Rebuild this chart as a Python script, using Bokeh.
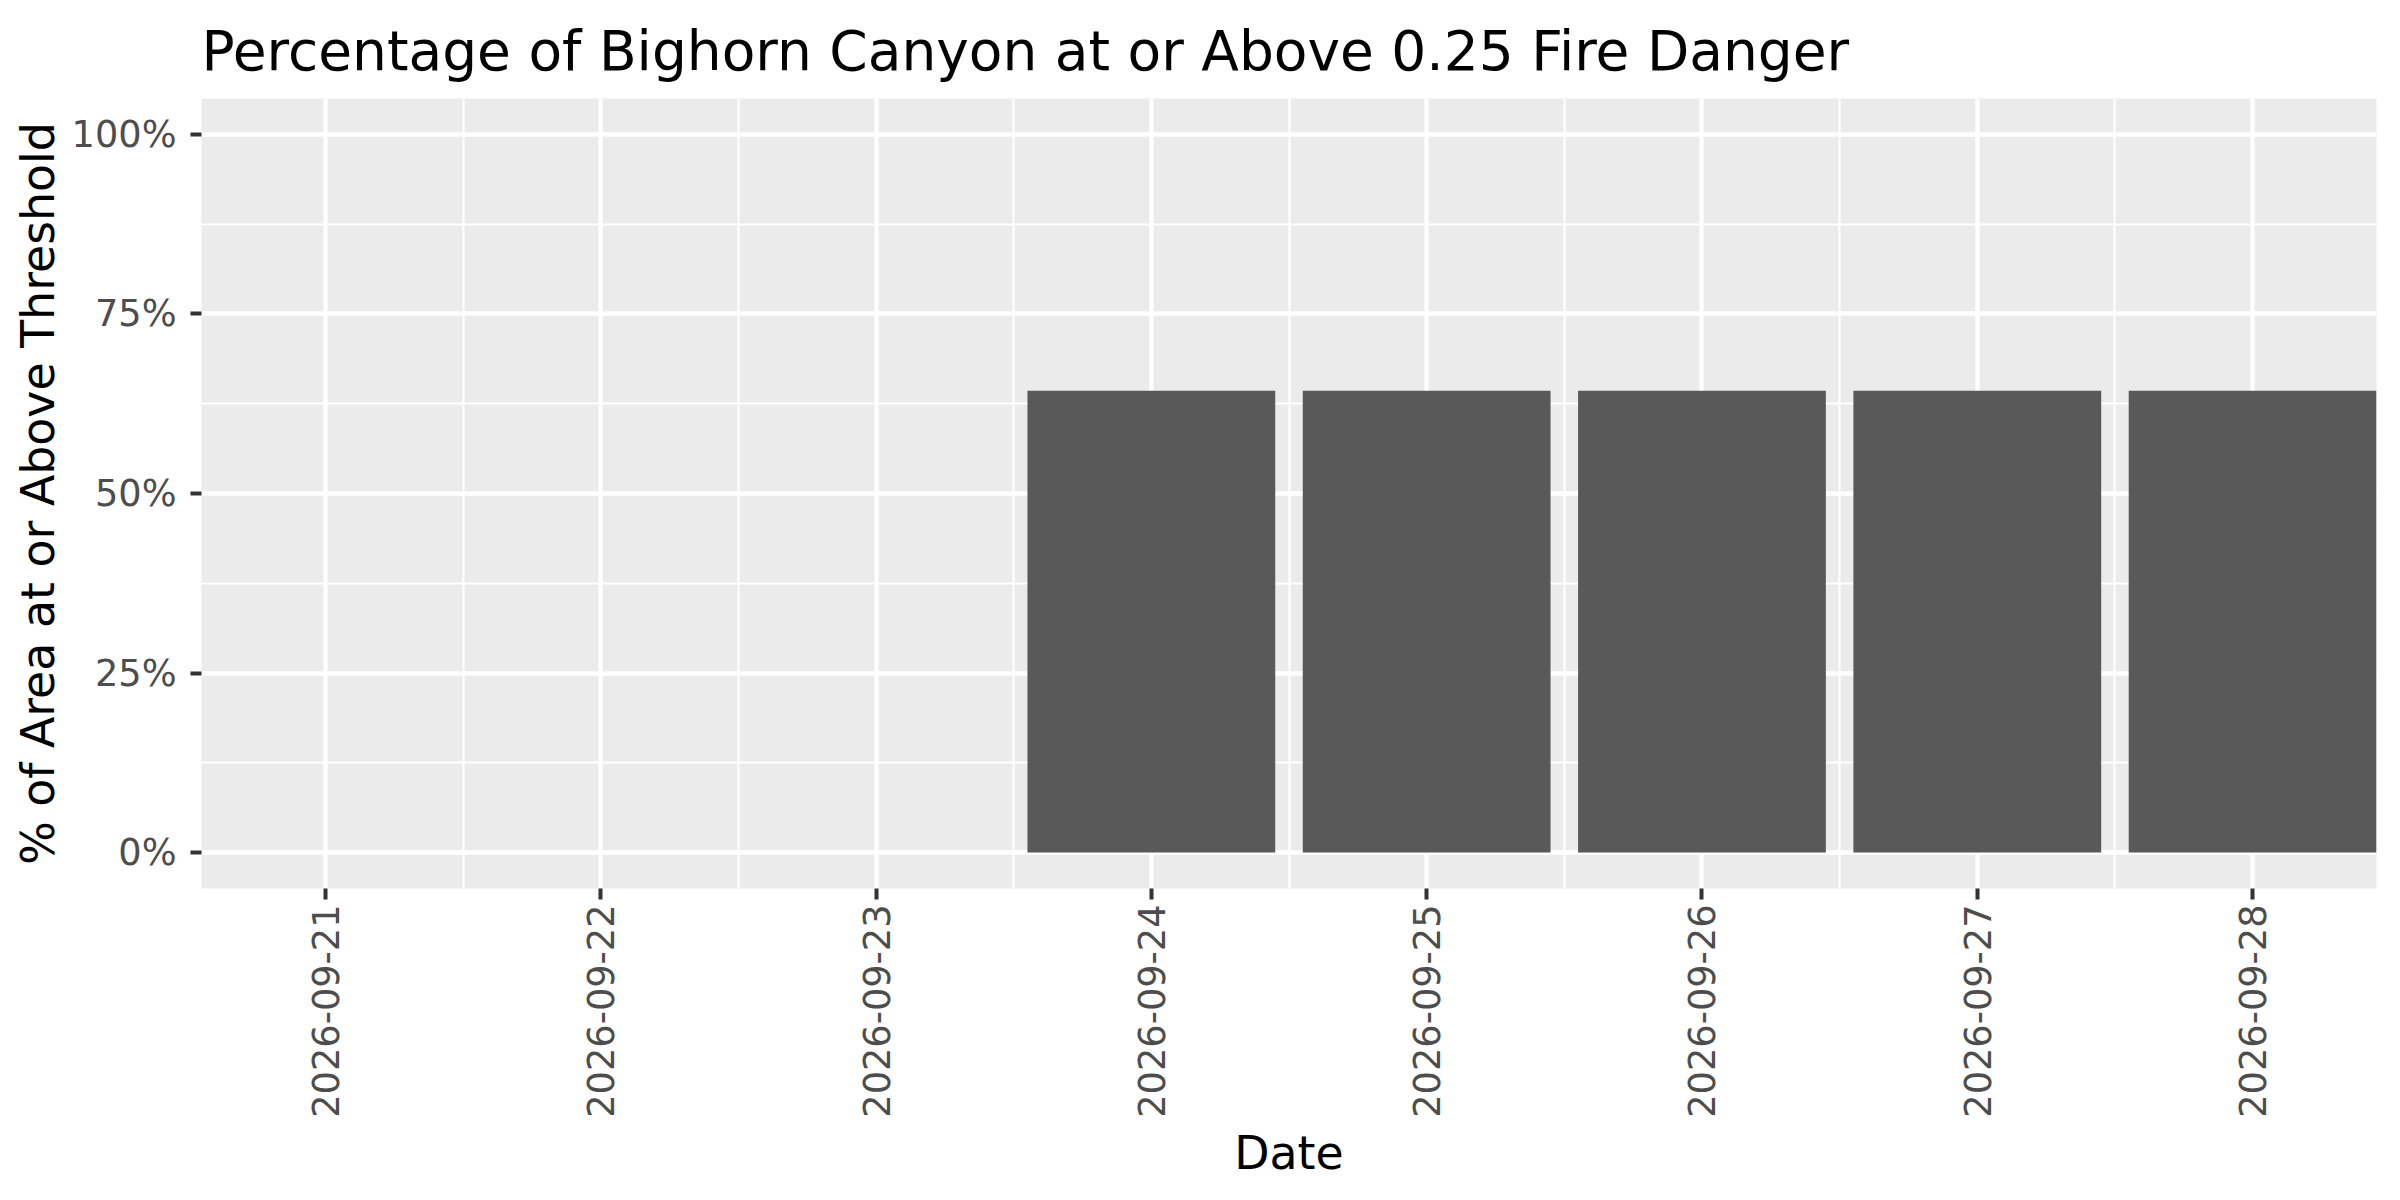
import math
import pandas as pd
from bokeh.plotting import figure
from bokeh.models import Range1d, FixedTicker, DatetimeTickFormatter, ColumnDataSource, Title
from bokeh.embed import file_html
from bokeh.resources import INLINE

# ---- data ----
dates = ["2026-09-21", "2026-09-22", "2026-09-23", "2026-09-24",
         "2026-09-25", "2026-09-26", "2026-09-27", "2026-09-28"]
pct_above = [0, 0, 0, 64.3, 64.3, 64.3, 64.3, 64.3]
y_ticks = [0, 25, 50, 75, 100]
y_tick_labels = ["0%", "25%", "50%", "75%", "100%"]
y_minor = [12.5, 37.5, 62.5, 87.5]

title_text = "Percentage of Bighorn Canyon at or Above 0.25 Fire Danger"
x_title = "Date"
y_title = "% of Area at or Above Threshold"

DAY = 86400000.0
dt = pd.to_datetime(dates)
ms = [float(v) for v in (dt.astype("int64") // 10**6)]

src = ColumnDataSource(dict(x=ms, top=pct_above))

p = figure(width=2384, height=1184, x_axis_type="datetime",
           output_backend="svg", toolbar_location=None,
           x_range=Range1d(ms[0] - 0.45 * DAY, ms[-1] + 0.45 * DAY),
           y_range=Range1d(-5, 105),
           min_border_left=201, min_border_right=8,
           min_border_top=97, min_border_bottom=296)

p.background_fill_color = "#EBEBEB"
p.border_fill_color = "white"
p.outline_line_color = None

p.vbar(x="x", top="top", bottom=0, width=0.9 * DAY, source=src,
       fill_color="#595959", line_color=None)

# title
p.title = Title(text=title_text, align="left", text_font="DejaVu Sans",
                text_font_size="55px", text_font_style="normal",
                text_color="black", standoff=32)

# x axis
p.xaxis.ticker = FixedTicker(ticks=ms, minor_ticks=[m + DAY / 2 for m in ms[:-1]])
fmt = "%Y-%m-%d"
p.xaxis.formatter = DatetimeTickFormatter(days=fmt, months=fmt, years=fmt, hours=fmt,
                                          hourmin=fmt, minutes=fmt, minsec=fmt,
                                          seconds=fmt, milliseconds=fmt,
                                          microseconds=fmt)
p.xaxis.major_label_orientation = math.pi / 2
p.xaxis.axis_label = x_title

# y axis
p.yaxis.ticker = FixedTicker(ticks=y_ticks, minor_ticks=y_minor)
p.yaxis.major_label_overrides = {t: l for t, l in zip(y_ticks, y_tick_labels)}
p.yaxis.axis_label = y_title

for ax in (p.xaxis, p.yaxis):
    ax.axis_line_color = None
    ax.major_tick_in = 0
    ax.major_tick_out = 11
    ax.minor_tick_in = 0
    ax.minor_tick_out = 0
    ax.major_tick_line_color = "#333333"
    ax.major_tick_line_width = 4
    ax.major_label_text_font = "DejaVu Sans"
    ax.major_label_text_font_size = "36.7px"
    ax.major_label_text_color = "#4D4D4D"
    ax.axis_label_text_font = "DejaVu Sans"
    ax.axis_label_text_font_size = "45.8px"
    ax.axis_label_text_font_style = "normal"
    ax.axis_label_text_color = "black"

p.xaxis.major_label_standoff = 5
p.xaxis.axis_label_standoff = 5
p.yaxis.major_label_standoff = 14
p.yaxis.axis_label_standoff = 4

for g in (p.xgrid, p.ygrid):
    g.grid_line_color = "white"
    g.grid_line_width = 4.3
    g.minor_grid_line_color = "white"
    g.minor_grid_line_width = 2.1

open("out.html", "w").write(file_html(p, INLINE))
